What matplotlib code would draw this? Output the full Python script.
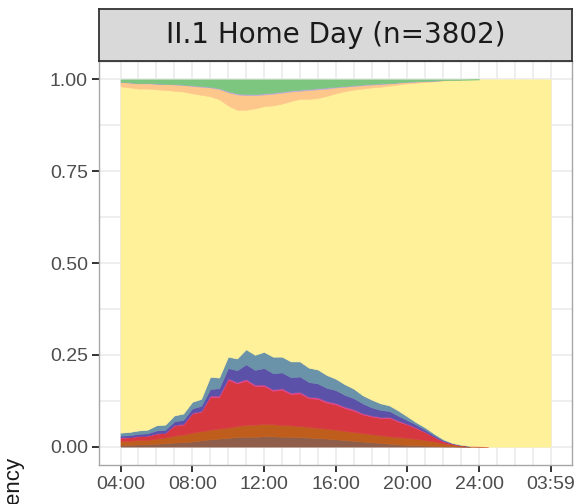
import numpy as np
import matplotlib
matplotlib.use("Agg")
import matplotlib.pyplot as plt

plt.rcParams['font.family'] = ['Liberation Sans', 'DejaVu Sans']

# Minutes after 04:00, half-hour resolution, last slot 03:59
minutes = list(range(0, 1440, 30))[:48] + [1439]

# Share of sequences in each state (bottom of the stack upwards)
eating = [0.005, 0.005, 0.006, 0.006, 0.008, 0.009, 0.011, 0.012, 0.014, 0.017,
          0.020, 0.022, 0.024, 0.026, 0.027, 0.027, 0.028, 0.028, 0.027, 0.027,
          0.026, 0.025, 0.023, 0.022, 0.020, 0.018, 0.016, 0.014, 0.012, 0.010,
          0.008, 0.006, 0.005, 0.004, 0.003, 0.002, 0.001, 0.001, 0.0005, 0.0,
          0.0, 0.0, 0.0, 0.0, 0.0, 0.0, 0.0, 0.0, 0.0]
care = [0.011, 0.011, 0.012, 0.012, 0.014, 0.016, 0.019, 0.021, 0.024, 0.025,
        0.026, 0.027, 0.028, 0.030, 0.032, 0.033, 0.034, 0.033, 0.032, 0.031,
        0.030, 0.029, 0.028, 0.027, 0.026, 0.025, 0.024, 0.023, 0.022, 0.021,
        0.020, 0.020, 0.019, 0.017, 0.015, 0.012, 0.008, 0.005, 0.002, 0.001,
        0.0005, 0.0, 0.0, 0.0, 0.0, 0.0, 0.0, 0.0, 0.0]
housework = [0.008, 0.009, 0.010, 0.011, 0.013, 0.012, 0.027, 0.027, 0.052, 0.053,
             0.089, 0.086, 0.130, 0.116, 0.121, 0.105, 0.103, 0.091, 0.096, 0.085,
             0.089, 0.078, 0.079, 0.071, 0.069, 0.062, 0.058, 0.051, 0.048, 0.047,
             0.050, 0.042, 0.036, 0.029, 0.021, 0.012, 0.005, 0.002, 0.0015, 0.001,
             0.0005, 0.0, 0.0, 0.0, 0.0, 0.0, 0.0, 0.0, 0.0]
shopping = [0.001, 0.001, 0.001, 0.001, 0.001, 0.001, 0.002, 0.002, 0.002, 0.002,
            0.004, 0.004, 0.004, 0.004, 0.004, 0.004, 0.004, 0.004, 0.004, 0.004,
            0.004, 0.004, 0.004, 0.004, 0.004, 0.004, 0.004, 0.003, 0.003, 0.003,
            0.003, 0.003, 0.002, 0.002, 0.001, 0.001, 0.001, 0.0005, 0.0, 0.0,
            0.0, 0.0, 0.0, 0.0, 0.0, 0.0, 0.0, 0.0, 0.0]
leisure = [0.005, 0.005, 0.006, 0.006, 0.008, 0.008, 0.010, 0.011, 0.012, 0.014,
           0.018, 0.020, 0.028, 0.032, 0.040, 0.040, 0.045, 0.044, 0.043, 0.042,
           0.042, 0.040, 0.038, 0.036, 0.035, 0.032, 0.030, 0.027, 0.022, 0.019,
           0.016, 0.013, 0.010, 0.008, 0.006, 0.004, 0.002, 0.001, 0.0005, 0.0,
           0.0, 0.0, 0.0, 0.0, 0.0, 0.0, 0.0, 0.0, 0.0]
outdoor = [0.008, 0.009, 0.009, 0.010, 0.014, 0.014, 0.016, 0.017, 0.018, 0.019,
           0.033, 0.029, 0.031, 0.032, 0.041, 0.041, 0.044, 0.045, 0.043, 0.043,
           0.041, 0.039, 0.038, 0.035, 0.031, 0.029, 0.026, 0.022, 0.021, 0.018,
           0.015, 0.014, 0.010, 0.006, 0.006, 0.004, 0.003, 0.0005, 0.0005, 0.0,
           0.0, 0.0, 0.0, 0.0, 0.0, 0.0, 0.0, 0.0, 0.0]
# States stacked above home, up to 1.00
travel = [0.012, 0.013, 0.014, 0.014, 0.015, 0.016, 0.017, 0.018, 0.020, 0.022,
          0.024, 0.028, 0.036, 0.042, 0.040, 0.036, 0.032, 0.032, 0.030, 0.026,
          0.022, 0.024, 0.024, 0.020, 0.016, 0.012, 0.010, 0.009, 0.008, 0.007,
          0.006, 0.005, 0.004, 0.003, 0.002, 0.0015, 0.001, 0.0005, 0.0, 0.0,
          0.0, 0.0, 0.0, 0.0, 0.0, 0.0, 0.0, 0.0, 0.0]
study = [0.001, 0.001, 0.001, 0.001, 0.001, 0.001, 0.001, 0.001, 0.002, 0.002,
         0.002, 0.002, 0.003, 0.003, 0.003, 0.003, 0.003, 0.003, 0.003, 0.003,
         0.003, 0.003, 0.003, 0.003, 0.002, 0.002, 0.002, 0.002, 0.002, 0.002,
         0.001, 0.001, 0.001, 0.001, 0.001, 0.001, 0.0, 0.0, 0.0, 0.0,
         0.0, 0.0, 0.0, 0.0, 0.0, 0.0, 0.0, 0.0, 0.0]
work = [0.006, 0.008, 0.010, 0.010, 0.011, 0.012, 0.013, 0.014, 0.016, 0.018,
        0.020, 0.024, 0.032, 0.038, 0.040, 0.040, 0.038, 0.036, 0.033, 0.030,
        0.028, 0.026, 0.024, 0.022, 0.020, 0.018, 0.016, 0.014, 0.012, 0.011,
        0.010, 0.008, 0.006, 0.005, 0.004, 0.003, 0.002, 0.0015, 0.001, 0.0005,
        0.0, 0.0, 0.0, 0.0, 0.0, 0.0, 0.0, 0.0, 0.0]

tick_minutes = [0, 240, 480, 720, 960, 1200, 1439]
tick_labels = ["04:00", "08:00", "12:00", "16:00", "20:00", "24:00", "03:59"]
y_ticks = [0.0, 0.25, 0.5, 0.75, 1.0]
y_labels = ["0.00", "0.25", "0.50", "0.75", "1.00"]

x = np.array(minutes, dtype=float)
lower_states = [eating, care, housework, shopping, leisure, outdoor]
upper_states = [travel, study, work]
home = 1.0 - np.sum(lower_states, axis=0) - np.sum(upper_states, axis=0)

layers = lower_states + [home] + upper_states
colors = ["#8f5e4a", "#bf5d1c", "#d7373f", "#e0428c", "#5c51a8", "#6a92a8",
          "#fff199", "#fdc68a", "#b8a8d4", "#7dc67f"]

W, H = 577, 504
fig = plt.figure(figsize=(W / 100, H / 100), dpi=100)
left, right, top_px, bottom_px = 99, 572, 61, 465
ax = fig.add_axes([left / W, 1 - bottom_px / H, (right - left) / W, (bottom_px - top_px) / H])

ax.set_xlim(-0.05 * 1439, 1.05 * 1439)
ax.set_ylim(-0.05, 1.05)

# grid: hourly verticals, eighths horizontally
grid_c = "#ebebeb"
for m in list(range(0, 1440, 60)) + [1439]:
    ax.axvline(m, color=grid_c, lw=1.2, zorder=0)
for v in np.arange(0, 1.001, 0.125):
    ax.axhline(v, color=grid_c, lw=1.2, zorder=0)

# stacked bands; each band is only drawn where the state is present
base = np.zeros_like(x)
for vals, c in zip(layers, colors):
    vals = np.asarray(vals, dtype=float)
    present = vals > 0
    shown = present.copy()
    shown[1:] |= present[:-1]
    shown[:-1] |= present[1:]
    ax.fill_between(x, base, base + vals, where=shown, facecolor=c,
                    edgecolor=c, lw=0.4, zorder=2)
    base = base + vals

ax.set_xticks(tick_minutes)
ax.set_xticklabels(tick_labels)
ax.set_yticks(y_ticks)
ax.set_yticklabels(y_labels)
ax.tick_params(axis='both', length=5, width=1.4, color="#333333",
               labelcolor="#4d4d4d", labelsize=14, pad=3)

for s in ax.spines.values():
    s.set_color("#a6a6a6")
    s.set_linewidth(1.0)

# facet strip
strip_top = 9
sax = fig.add_axes([left / W, 1 - top_px / H, (right - left) / W, (top_px - strip_top) / H])
sax.set_xlim(0, 1)
sax.set_ylim(0, 1)
sax.set_xticks([])
sax.set_yticks([])
sax.set_facecolor("#d9d9d9")
for s in sax.spines.values():
    s.set_color("#333333")
    s.set_linewidth(1.3)
sax.text(0.5, 0.5, "II.1 Home Day (n=3802)", ha='center', va='center',
         fontsize=20, color="#1a1a1a", family=['DejaVu Sans'])

fig.text(13 / W, 1 - 456 / H, "Frequency", rotation=90, ha='center', va='top',
         fontsize=16, color="#1a1a1a")

fig.savefig("out.png", dpi=100)
